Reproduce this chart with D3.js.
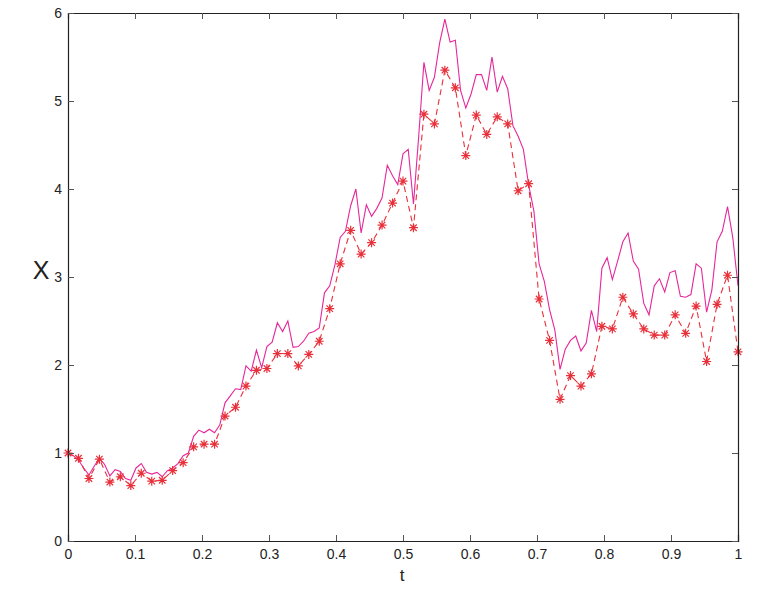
<!DOCTYPE html>
<html>
<head>
<meta charset="utf-8">
<script src="https://cdn.jsdelivr.net/npm/d3@7/dist/d3.min.js"></script>
<style>
  body { margin: 0; background: #fff; }
  text { font-family: "Liberation Sans", Arial, sans-serif; }
</style>
</head>
<body>
<div id="chart"></div>
<script>
// fine path, sampled at t = j/128
const fineX = [
  1.00, 0.97, 0.92, 0.83, 0.75, 0.85, 0.94, 0.87, 0.74, 0.81,
  0.79, 0.71, 0.69, 0.83, 0.88, 0.78, 0.76, 0.78, 0.73, 0.80,
  0.83, 0.88, 0.97, 1.00, 1.19, 1.26, 1.23, 1.27, 1.23, 1.32,
  1.57, 1.65, 1.73, 1.72, 1.99, 1.93, 2.17, 1.97, 2.21, 2.26,
  2.48, 2.38, 2.50, 2.20, 2.21, 2.27, 2.36, 2.38, 2.42, 2.82,
  2.90, 3.14, 3.45, 3.52, 3.81, 4.00, 3.50, 3.82, 3.69, 3.78,
  3.90, 4.27, 4.15, 4.05, 4.40, 4.45, 3.83, 4.60, 5.44, 5.12,
  5.27, 5.66, 5.93, 5.67, 5.69, 5.12, 4.92, 5.08, 5.30, 5.30,
  5.12, 5.50, 5.10, 5.28, 5.14, 4.72, 4.60, 4.45, 4.05, 3.75,
  3.15, 2.95, 2.63, 2.40, 1.95, 2.18, 2.28, 2.33, 2.16, 2.25,
  2.62, 2.38, 3.10, 3.22, 2.97, 3.18, 3.40, 3.50, 3.18, 3.09,
  2.70, 2.57, 2.90, 2.98, 2.83, 3.05, 3.07, 2.78, 2.77, 2.80,
  3.15, 3.10, 2.60, 2.85, 3.40, 3.52, 3.80, 3.45, 2.90
];

// coarse path, sampled at t = k/64
const coarseX = [
  1.00, 0.94, 0.71, 0.93, 0.67, 0.73, 0.63, 0.77, 0.68, 0.69,
  0.80, 0.89, 1.07, 1.10, 1.10, 1.42, 1.52, 1.76, 1.94, 1.96,
  2.13, 2.13, 1.99, 2.12, 2.27, 2.64, 3.15, 3.53, 3.26, 3.39,
  3.59, 3.84, 4.09, 3.56, 4.85, 4.74, 5.35, 5.15, 4.38, 4.84,
  4.62, 4.82, 4.74, 3.98, 4.06, 2.75, 2.28, 1.61, 1.88, 1.76,
  1.90, 2.44, 2.41, 2.77, 2.58, 2.41, 2.34, 2.34, 2.57, 2.36,
  2.67, 2.04, 2.69, 3.02, 2.15
];

const xTicks = [0, 0.1, 0.2, 0.3, 0.4, 0.5, 0.6, 0.7, 0.8, 0.9, 1];
const yTicks = [0, 1, 2, 3, 4, 5, 6];

const width = 771, height = 601;
const plotLeft = 68, plotRight = 738, plotTop = 13, plotBottom = 541;

const svg = d3.select("#chart").append("svg")
  .attr("width", width)
  .attr("height", height);

const x = d3.scaleLinear().domain([0, 1]).range([plotLeft, plotRight]);
const y = d3.scaleLinear().domain([0, 6]).range([plotBottom, plotTop]);

const fineData = fineX.map((v, j) => ({ t: j / (fineX.length - 1), v }));
const coarseData = coarseX.map((v, k) => ({ t: k / (coarseX.length - 1), v }));

const line = d3.line().x(d => x(d.t)).y(d => y(d.v));

svg.append("path")
  .datum(fineData)
  .attr("fill", "none")
  .attr("stroke", "#e6279a")
  .attr("stroke-width", 1.1)
  .attr("d", line);

svg.append("path")
  .datum(coarseData)
  .attr("fill", "none")
  .attr("stroke", "#e8303a")
  .attr("stroke-width", 1.1)
  .attr("stroke-dasharray", "6,4")
  .attr("d", line);

// asterisk markers, 8 arms like matlab '*'
const r = 4.5, rd = r * 0.72;
const star = `M${-r},0L${r},0M0,${-r}L0,${r}M${-rd},${-rd}L${rd},${rd}M${-rd},${rd}L${rd},${-rd}`;

svg.selectAll(".mark")
  .data(coarseData)
  .enter()
  .append("path")
  .attr("class", "mark")
  .attr("transform", d => `translate(${x(d.t)},${y(d.v)})`)
  .attr("d", star)
  .attr("fill", "none")
  .attr("stroke", "#e8303a")
  .attr("stroke-width", 1.2);

// box axes, ticks pointing in
const styleAxis = g => {
  g.select(".domain").attr("stroke", "#222");
  g.selectAll(".tick line").attr("stroke", "#555");
  g.selectAll(".tick text")
    .attr("fill", "#222")
    .style("font-size", "14px");
};

svg.append("g")
  .attr("transform", `translate(0,${plotBottom})`)
  .call(d3.axisBottom(x).tickValues(xTicks).tickSize(-6).tickPadding(8).tickFormat(d3.format("")))
  .call(styleAxis);

svg.append("g")
  .attr("transform", `translate(0,${plotTop})`)
  .call(d3.axisTop(x).tickValues(xTicks).tickSize(-6).tickFormat(""))
  .call(styleAxis);

svg.append("g")
  .attr("transform", `translate(${plotLeft},0)`)
  .call(d3.axisLeft(y).tickValues(yTicks).tickSize(-6).tickPadding(6).tickFormat(d3.format("d")))
  .call(styleAxis);

svg.append("g")
  .attr("transform", `translate(${plotRight},0)`)
  .call(d3.axisRight(y).tickValues(yTicks).tickSize(-6).tickFormat(""))
  .call(styleAxis);

svg.selectAll(".domain").attr("stroke-width", 1.2);

svg.append("text")
  .attr("x", 402)
  .attr("y", 581)
  .attr("text-anchor", "middle")
  .attr("fill", "#222")
  .style("font-size", "17px")
  .text("t");

svg.append("text")
  .attr("x", 41)
  .attr("y", 279)
  .attr("text-anchor", "middle")
  .attr("fill", "#222")
  .style("font-size", "25px")
  .text("X");
</script>
</body>
</html>
